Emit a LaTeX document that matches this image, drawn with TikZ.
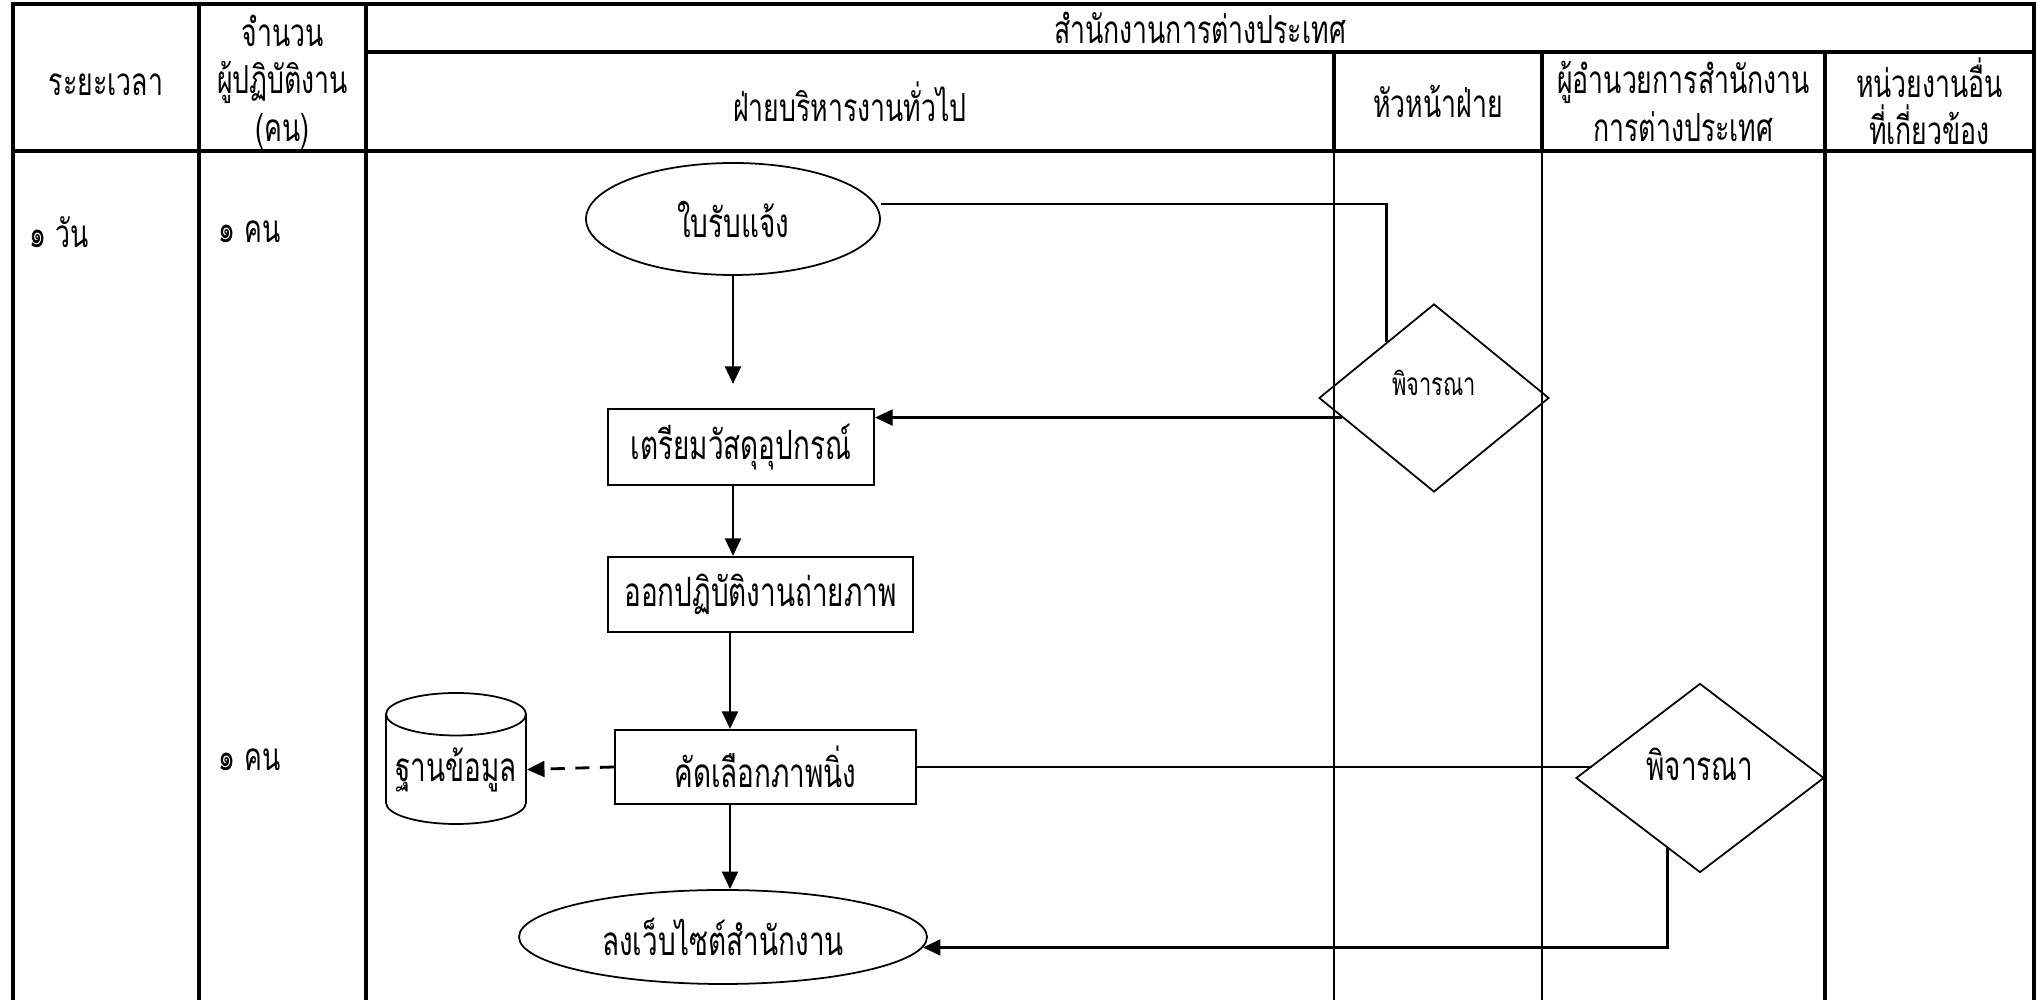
\documentclass[tikz,border=0pt]{standalone}
\usepackage{fontspec}
\setmainfont{Loma}[Script=Thai, FakeStretch=0.69]
\usetikzlibrary{shapes.geometric,arrows.meta}

\begin{document}
\begin{tikzpicture}[
    grid/.style={line width=0.9pt},
    lane/.style={line width=0.45pt},
    head/.style={
        align=center,
        font=\fontsize{11}{13.5}\selectfont
    },
    task/.style={
        rectangle,
        draw,
        line width=0.6pt,
        inner sep=0pt,
        font=\fontsize{11.5}{14}\selectfont
    },
    terminal/.style={
        ellipse,
        draw,
        line width=0.5pt,
        inner sep=0pt,
        font=\fontsize{11.5}{14}\selectfont
    },
    decision/.style={
        diamond,
        draw,
        line width=0.5pt,
        inner sep=0pt
    },
    store/.style={
        cylinder,
        shape border rotate=90,
        aspect=0.35,
        draw,
        line width=0.5pt,
        inner sep=0pt,
        font=\fontsize{11.5}{14}\selectfont
    },
    flow/.style={-{Triangle[length=5pt,width=4.5pt]}, line width=0.8pt},
    link/.style={line width=0.8pt}
]
\useasboundingbox (0,0) rectangle (20.4,-10);

% Table frame
\draw[grid] (0.13,-10.1) -- (0.13,-0.04) -- (20.34,-0.04) -- (20.34,-10.1);
\draw[grid] (1.99,-0.04) -- (1.99,-10.1);
\draw[grid] (3.66,-0.04) -- (3.66,-10.1);
\draw[grid] (3.66,-0.52) -- (20.34,-0.52);
\draw[grid] (0.13,-1.51) -- (20.34,-1.51);
\draw[grid] (13.34,-0.52) -- (13.34,-1.51);
\draw[grid] (15.42,-0.52) -- (15.42,-1.51);
\draw[grid] (18.25,-0.52) -- (18.25,-10.1);
\draw[lane] (13.34,-1.51) -- (13.34,-10.1);
\draw[lane] (15.42,-1.51) -- (15.42,-10.1);

% Headings
\node[head] (h-time) at (1.06,-0.85) {ระยะเวลา};
\node[head] (h-staff) at (2.825,-0.82) {จำนวน\\ผู้ปฏิบัติงาน\\(คน)};
\node[head] (h-office) at (12.0,-0.28) {สำนักงานการต่างประเทศ};
\node[head] (h-admin) at (8.5,-1.015) {ฝ่ายบริหารงานทั่วไป};
\node[head] (h-chief) at (14.38,-1.015) {หัวหน้าฝ่าย};
\node[head] (h-director) at (16.835,-1.015) {ผู้อำนวยการสำนักงาน\\การต่างประเทศ};
\node[head] (h-other) at (19.295,-1.015) {หน่วยงานอื่น\\ที่เกี่ยวข้อง};

% Time and staff
\node[head, anchor=west] (t-day) at (0.17,-2.32) {๑ วัน};
\node[head, anchor=west] (n-one) at (2.06,-2.32) {๑ คน};
\node[head, anchor=west] (n-two) at (2.06,-7.60) {๑ คน};

% Steps
\node[terminal, minimum width=2.94cm, minimum height=1.12cm] (recv) at (7.33,-2.19) {ใบรับแจ้ง};
\node[task, minimum width=2.66cm, minimum height=0.76cm] (prep) at (7.41,-4.47) {เตรียมวัสดุอุปกรณ์};
\node[task, minimum width=3.05cm, minimum height=0.75cm] (shoot) at (7.605,-5.945) {ออกปฏิบัติงานถ่ายภาพ};
\node[task, minimum width=3.01cm, minimum height=0.74cm] (select) at (7.655,-7.67) {คัดเลือกภาพนิ่ง};
\node[store, anchor=shape center, minimum width=1.40cm, minimum height=1.31cm] (db) at (4.56,-7.585) {ฐานข้อมูล};
\node[terminal, minimum width=4.08cm, minimum height=0.94cm] (post) at (7.23,-9.37) {ลงเว็บไซต์สำนักงาน};

% Approvals
\node[decision, minimum width=2.30cm, minimum height=1.88cm,
    label={[font=\fontsize{9}{11}\selectfont, yshift=0.15cm]center:พิจารณา}] (d1) at (14.34,-3.98) {};
\node[decision, minimum width=2.48cm, minimum height=1.89cm,
    label={[font=\fontsize{11.5}{14}\selectfont, yshift=0.14cm]center:พิจารณา}] (d2) at (17.00,-7.78) {};

\coordinate (recv-end) at (7.33,-3.84);

% Arrows
\draw[flow] (recv.south) -- (recv-end);
\draw[link] ([yshift=0.15cm]recv.east) -| (d1.130);
\draw[flow] (d1.192) -- (d1.192 -| prep.east);
\draw[flow] (prep.south -| recv) -- (shoot.north -| recv);
\draw[flow] (shoot.south -| 7.30,0) -- (select.north -| 7.30,0);
\draw[flow, dash pattern=on 4pt off 3pt] (select.west) -- (db.east);
\draw[link] (select.east) -- (select.east -| d2.173);
\draw[flow] (select.south -| 7.30,0) -- (post.north -| 7.30,0);
\draw[flow] (d2.245) |- (post.-3);

\end{tikzpicture}
\end{document}
